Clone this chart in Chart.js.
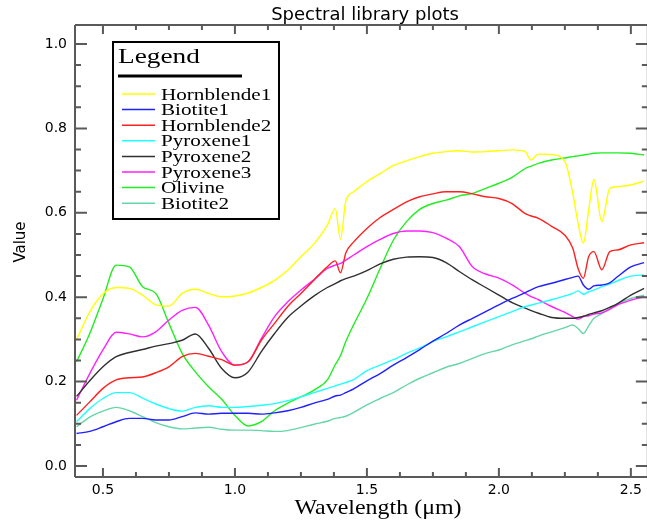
<!DOCTYPE html>
<html>
<head>
<meta charset="utf-8">
<script src="https://cdn.jsdelivr.net/npm/chart.js@4.4.1/dist/chart.umd.min.js"></script>
<style>
  html, body { margin: 0; padding: 0; background: #fff; }
  canvas { display: block; }
</style>
</head>
<body>
<canvas id="chart-spectra" width="647" height="524"></canvas>
<script>
// wavelength samples (micrometres)
var wavelength = [0.40, 0.45, 0.50, 0.55, 0.60, 0.65, 0.70, 0.75, 0.80, 0.85,
    0.90, 0.95, 1.00, 1.05, 1.10, 1.15, 1.20, 1.25, 1.30, 1.35,
    1.38, 1.40, 1.42, 1.45, 1.50, 1.55, 1.60, 1.65, 1.70, 1.75,
    1.80, 1.85, 1.90, 1.95, 2.00, 2.05, 2.10, 2.12, 2.15, 2.20,
    2.25, 2.28, 2.30, 2.32, 2.34, 2.36, 2.39, 2.42, 2.45, 2.50, 2.55];

var hornblende1 = [0.300, 0.365, 0.408, 0.423, 0.421, 0.405, 0.382, 0.379, 0.409, 0.419,
    0.409, 0.401, 0.403, 0.410, 0.423, 0.440, 0.464, 0.496, 0.527, 0.571,
    0.610, 0.537, 0.628, 0.650, 0.674, 0.693, 0.712, 0.723, 0.733, 0.741,
    0.745, 0.747, 0.744, 0.745, 0.747, 0.749, 0.745, 0.725, 0.739, 0.738,
    0.721, 0.646, 0.575, 0.528, 0.606, 0.679, 0.579, 0.658, 0.662, 0.666, 0.675];

var biotite1 = [0.077, 0.082, 0.093, 0.105, 0.113, 0.113, 0.109, 0.109, 0.117, 0.126,
    0.123, 0.125, 0.125, 0.125, 0.123, 0.126, 0.131, 0.139, 0.149, 0.158,
    0.166, 0.168, 0.174, 0.183, 0.202, 0.219, 0.239, 0.257, 0.276, 0.296,
    0.314, 0.334, 0.350, 0.366, 0.382, 0.397, 0.411, 0.417, 0.425, 0.433,
    0.442, 0.447, 0.450, 0.429, 0.419, 0.427, 0.429, 0.434, 0.449, 0.472, 0.482];

var hornblende2 = [0.120, 0.152, 0.184, 0.204, 0.209, 0.211, 0.221, 0.235, 0.259, 0.267,
    0.260, 0.252, 0.239, 0.247, 0.298, 0.338, 0.378, 0.409, 0.441, 0.472,
    0.486, 0.458, 0.505, 0.531, 0.563, 0.589, 0.608, 0.626, 0.638, 0.645,
    0.650, 0.650, 0.645, 0.638, 0.634, 0.622, 0.598, 0.593, 0.587, 0.568,
    0.547, 0.516, 0.468, 0.445, 0.496, 0.508, 0.465, 0.508, 0.512, 0.524, 0.529];

var pyroxene1 = [0.105, 0.136, 0.160, 0.174, 0.174, 0.161, 0.147, 0.136, 0.130, 0.139,
    0.143, 0.139, 0.139, 0.141, 0.144, 0.148, 0.155, 0.164, 0.174, 0.184,
    0.190, 0.194, 0.198, 0.205, 0.226, 0.239, 0.252, 0.267, 0.280, 0.295,
    0.306, 0.318, 0.330, 0.342, 0.354, 0.366, 0.378, 0.381, 0.386, 0.394,
    0.403, 0.409, 0.415, 0.407, 0.413, 0.417, 0.425, 0.431, 0.439, 0.450, 0.453];

var pyroxene2 = [0.165, 0.202, 0.235, 0.259, 0.269, 0.276, 0.284, 0.290, 0.298, 0.313,
    0.279, 0.231, 0.209, 0.223, 0.271, 0.314, 0.352, 0.379, 0.403, 0.423,
    0.432, 0.439, 0.444, 0.450, 0.463, 0.479, 0.490, 0.495, 0.496, 0.494,
    0.482, 0.461, 0.441, 0.423, 0.405, 0.387, 0.374, 0.369, 0.362, 0.352,
    0.350, 0.350, 0.352, 0.355, 0.359, 0.363, 0.368, 0.376, 0.385, 0.405, 0.421];

var pyroxene3 = [0.156, 0.219, 0.275, 0.317, 0.313, 0.306, 0.318, 0.346, 0.369, 0.376,
    0.334, 0.271, 0.239, 0.247, 0.302, 0.354, 0.389, 0.417, 0.442, 0.468,
    0.476, 0.480, 0.488, 0.500, 0.520, 0.537, 0.551, 0.557, 0.557, 0.553,
    0.540, 0.520, 0.472, 0.455, 0.445, 0.429, 0.409, 0.402, 0.394, 0.378,
    0.364, 0.354, 0.348, 0.354, 0.356, 0.360, 0.363, 0.371, 0.382, 0.393, 0.401];

var olivine = [0.247, 0.314, 0.396, 0.476, 0.472, 0.425, 0.409, 0.338, 0.267, 0.223,
    0.188, 0.158, 0.120, 0.095, 0.105, 0.131, 0.149, 0.164, 0.180, 0.204,
    0.240, 0.262, 0.295, 0.335, 0.397, 0.468, 0.535, 0.579, 0.608, 0.622,
    0.630, 0.640, 0.646, 0.658, 0.670, 0.684, 0.705, 0.710, 0.717, 0.725,
    0.730, 0.733, 0.735, 0.737, 0.739, 0.741, 0.742, 0.742, 0.742, 0.741, 0.737];

var biotite2 = [0.093, 0.116, 0.130, 0.139, 0.131, 0.117, 0.103, 0.093, 0.088, 0.090,
    0.092, 0.087, 0.085, 0.085, 0.084, 0.082, 0.084, 0.091, 0.099, 0.106,
    0.113, 0.115, 0.118, 0.127, 0.145, 0.160, 0.174, 0.192, 0.208, 0.221,
    0.234, 0.243, 0.255, 0.267, 0.275, 0.287, 0.297, 0.301, 0.308, 0.318,
    0.328, 0.334, 0.326, 0.314, 0.332, 0.350, 0.361, 0.373, 0.385, 0.397, 0.405];

var seriesNames = ['Hornblende1', 'Biotite1', 'Hornblende2', 'Pyroxene1',
    'Pyroxene2', 'Pyroxene3', 'Olivine', 'Biotite2'];
var seriesValues = [hornblende1, biotite1, hornblende2, pyroxene1,
    pyroxene2, pyroxene3, olivine, biotite2];

var xTicks = [0.5, 1.0, 1.5, 2.0, 2.5];
var yTicks = [0.0, 0.2, 0.4, 0.6, 0.8, 1.0];

var colores = ['#ffff00', '#2020ff', '#ff2020', '#20ffff',
    '#303030', '#ff20ff', '#20ee20', '#66d6a8'];


// ******* PLUGIN: frame, ticks, texts, legend **********

function texto(ctx, str, x, y, font, align, sx) {
    ctx.save();
    ctx.font = font;
    ctx.fillStyle = '#000';
    ctx.textBaseline = 'alphabetic';
    ctx.translate(x, y);
    ctx.scale(sx || 1, 1);
    ctx.textAlign = align;
    ctx.fillText(str, 0, 0);
    ctx.restore();
}

var marco = {
    id: 'marco',
    afterDraw: function (chart) {
        var ctx = chart.ctx;
        var a = chart.chartArea;
        var xs = chart.scales.x;
        var ys = chart.scales.y;
        var rightAxis = a.right + 2;

        ctx.save();
        ctx.strokeStyle = '#5a5a5a';
        ctx.lineWidth = 2;
        ctx.beginPath();
        ctx.moveTo(a.left, a.top); ctx.lineTo(rightAxis, a.top);
        ctx.moveTo(a.left, a.top); ctx.lineTo(a.left, a.bottom);
        ctx.moveTo(a.left, a.bottom); ctx.lineTo(rightAxis, a.bottom);
        ctx.moveTo(rightAxis, a.top); ctx.lineTo(rightAxis, a.bottom);

        // x ticks every 0.125, major every 0.5
        for (var i = 0; i <= 20; i++) {
            var w = 0.5 + (i - 1) * 0.125;
            if (w < xs.min || w > xs.max) continue;
            var px = xs.getPixelForValue(w);
            var len = ((i - 1) % 4 === 0) ? 9 : 5;
            ctx.moveTo(px, a.bottom); ctx.lineTo(px, a.bottom - len);
            ctx.moveTo(px, a.top); ctx.lineTo(px, a.top + len);
        }
        // y ticks every 0.05, major every 0.2
        for (var j = 0; j <= 20; j++) {
            var v = j * 0.05;
            var py = ys.getPixelForValue(v);
            var l2 = (j % 4 === 0) ? 12 : 6;
            ctx.moveTo(a.left, py); ctx.lineTo(a.left + l2, py);
            ctx.moveTo(rightAxis, py); ctx.lineTo(rightAxis - l2, py);
        }
        ctx.stroke();
        ctx.restore();

        // titles
        texto(ctx, 'Spectral library plots', 365, 20, '17px "DejaVu Sans"', 'center', 1.06);
        texto(ctx, 'Wavelength (\u03bcm)', 378, 514, '21px "Liberation Serif"', 'center', 1.14);
        ctx.save();
        ctx.translate(25, 242);
        ctx.rotate(-Math.PI / 2);
        texto(ctx, 'Value', 0, 0, '15px "DejaVu Sans"', 'center', 1);
        ctx.restore();

        // legend box
        ctx.save();
        ctx.fillStyle = '#fff';
        ctx.fillRect(113, 42, 166, 177);
        ctx.strokeStyle = '#000';
        ctx.lineWidth = 2;
        ctx.strokeRect(113, 42, 166, 177);
        ctx.fillStyle = '#000';
        ctx.fillRect(118, 74.5, 124, 3);
        ctx.restore();
        texto(ctx, 'Legend', 118, 63, '21px "Liberation Serif"', 'left', 1.3);

        for (var k = 0; k < seriesNames.length; k++) {
            var ry = 94 + k * 15.6;
            ctx.save();
            ctx.strokeStyle = colores[k];
            ctx.lineWidth = 1.5;
            ctx.beginPath();
            ctx.moveTo(122, ry); ctx.lineTo(155, ry);
            ctx.stroke();
            ctx.restore();
            texto(ctx, seriesNames[k], 161, ry + 5.5, '16px "Liberation Serif"', 'left', 1.32);
        }
    }
};


// ******* CHART **********

var datasets = seriesNames.map(function (nombre, i) {
    return {
        label: nombre,
        data: wavelength.map(function (w, k) { return { x: w, y: seriesValues[i][k] }; }),
        borderColor: colores[i],
        backgroundColor: colores[i],
        borderWidth: 1.4,
        pointRadius: 0,
        cubicInterpolationMode: 'monotone',
        fill: false
    };
});

var contexto = document.getElementById('chart-spectra').getContext('2d');
var chartEspectros = new Chart(contexto, {
    type: 'line',
    data: { datasets: datasets },
    options: {
        responsive: false,
        animation: false,
        layout: { padding: { top: 25, right: 0, left: 0, bottom: 0 } },
        plugins: {
            legend: { display: false },
            tooltip: { enabled: false },
            title: { display: false }
        },
        scales: {
            x: {
                type: 'linear',
                min: 0.3941,
                max: 2.5567,
                afterFit: function (s) { s.height = 47; },
                afterBuildTicks: function (s) { s.ticks = xTicks.map(function (v) { return { value: v }; }); },
                grid: { display: false, drawTicks: false },
                border: { display: false },
                ticks: {
                    color: '#000',
                    padding: 5,
                    maxRotation: 0,
                    font: { family: 'DejaVu Sans', size: 14 },
                    callback: function (v) { return Number(v).toFixed(1); }
                }
            },
            y: {
                type: 'linear',
                min: -0.026,
                max: 1.045,
                afterFit: function (s) { s.width = 75; },
                afterBuildTicks: function (s) { s.ticks = yTicks.map(function (v) { return { value: v }; }); },
                grid: { display: false, drawTicks: false },
                border: { display: false },
                ticks: {
                    color: '#000',
                    padding: 8,
                    font: { family: 'DejaVu Sans', size: 14 },
                    callback: function (v) { return Number(v).toFixed(1); }
                }
            }
        }
    },
    plugins: [marco]
});
</script>
</body>
</html>
